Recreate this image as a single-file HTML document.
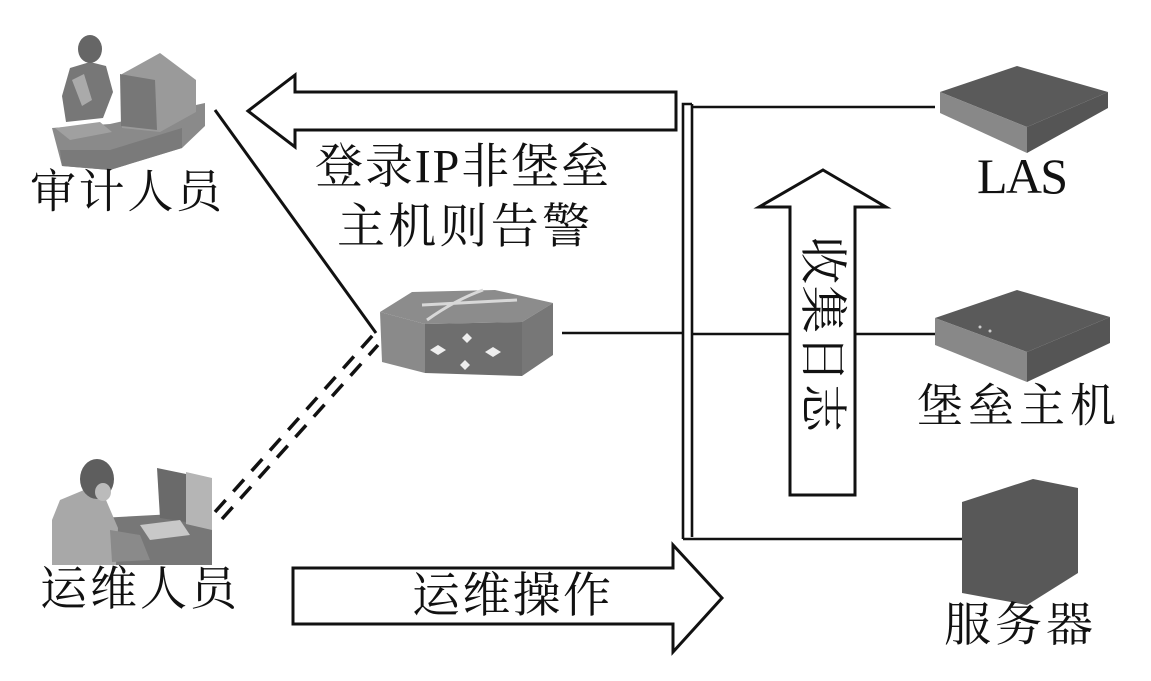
<!DOCTYPE html>
<html>
<head>
<meta charset="utf-8">
<style>
html,body{margin:0;padding:0;background:#fff;}
svg{display:block;}
text{font-family:"Liberation Serif","Noto Serif CJK SC",serif;fill:#111;}
</style>
</head>
<body>
<svg width="1151" height="681" viewBox="0 0 1151 681" xmlns="http://www.w3.org/2000/svg">
<rect width="1151" height="681" fill="#fff"/>

<!-- Audit person icon -->
<g>
  <polygon points="52,128 110,124 205,103 205,126 182,148 110,170 62,166" fill="#8a8a8a"/>
  <polygon points="60,150 110,150 182,128 182,148 110,170 62,166" fill="#7a7a7a"/>
  <polygon points="122,74 160,53 196,80 196,112 160,132 122,128" fill="#9a9a9a"/>
  <polygon points="120,74 155,80 157,130 121,126" fill="#777"/>
  <polygon points="62,96 70,68 90,62 106,66 113,92 103,118 66,122" fill="#777"/>
  <polygon points="72,80 84,74 92,100 82,106" fill="#aaa"/>
  <polygon points="55,128 100,122 112,132 70,140" fill="#a0a0a0"/>
  <ellipse cx="90" cy="49" rx="12" ry="14" fill="#666"/>
</g>

<!-- Operator photo icon -->
<g>
  <polygon points="100,518 212,512 212,565 100,565" fill="#777"/>
  <polygon points="157,468 186,474 186,522 160,518" fill="#6a6a6a"/>
  <polygon points="186,472 212,478 212,530 186,524" fill="#b5b5b5"/>
  <polygon points="140,525 180,520 190,535 150,540" fill="#c8c8c8"/>
  <polygon points="52,565 52,520 60,500 84,490 106,500 118,528 116,565" fill="#a8a8a8"/>
  <polygon points="110,530 140,535 150,560 112,562" fill="#8a8a8a"/>
  <ellipse cx="97" cy="479" rx="17" ry="20" fill="#5e5e5e"/>
  <ellipse cx="103" cy="492" rx="8" ry="9" fill="#bbb"/>
</g>

<!-- Router -->
<g>
  <polygon points="380,312 412,292 495,290 553,303 522,322 425,324" fill="#8c8c8c"/>
  <polygon points="380,312 425,324 425,373 382,362" fill="#8a8a8a"/>
  <polygon points="425,324 522,322 522,376 425,373" fill="#6e6e6e"/>
  <polygon points="522,322 553,303 553,355 522,376" fill="#777"/>
  <path d="M422,305 L517,300 M427,320 Q455,300 483,290" stroke="#d8d8d8" stroke-width="3" fill="none"/>
  <polygon points="438,345 446,350 438,355 430,350" fill="#eee"/>
  <polygon points="467,333 472,338 467,343 462,338" fill="#eee"/>
  <polygon points="493,347 501,352 493,357 485,352" fill="#eee"/>
  <polygon points="465,360 470,365 465,370 460,365" fill="#eee"/>
</g>

<!-- LAS box -->
<g>
  <polygon points="940,92 1017,66 1108,92 1027,127" fill="#5a5a5a"/>
  <polygon points="940,92 1027,127 1027,153 940,113" fill="#888"/>
  <polygon points="1027,127 1108,92 1108,108 1027,153" fill="#555"/>
</g>

<!-- Bastion host box -->
<g>
  <polygon points="935,318 1017,290 1110,317 1027,352" fill="#5a5a5a"/>
  <polygon points="935,318 1027,352 1027,382 935,345" fill="#888"/>
  <polygon points="1027,352 1110,317 1110,343 1027,382" fill="#555"/>
  <circle cx="980" cy="327" r="1.5" fill="#ccc"/>
  <circle cx="990" cy="331" r="1.5" fill="#ccc"/>
</g>

<!-- Server -->
<polygon points="962,502 1033,479 1078,488 1078,573 1027,605 962,593" fill="#585858"/>

<!-- Connectors -->
<g stroke="#111" stroke-width="2.6" fill="none">
  <path d="M683,539 V104 H692"/>
  <path d="M692,104 V537"/>
  <path d="M692,107 H935"/>
  <path d="M683,539 H962"/>
  <path d="M562,333 H683"/>
  <path d="M692,334 H790"/>
  <path d="M855,334 H935"/>
  <path d="M215,110 L376,333" stroke-width="3"/>
  <path d="M215,512 L373,335" stroke-width="3.5" stroke-dasharray="16 11.5"/>
  <path d="M222,519 L378,345" stroke-width="3.5" stroke-dasharray="16 11.5"/>
</g>

<!-- Arrows -->
<g stroke="#111" stroke-width="3" fill="#fff" stroke-linejoin="miter">
  <polygon points="248,111 295,75 295,92 676,92 676,130 295,130 295,147"/>
  <polygon points="823,170 886,207 855,207 855,495 790,495 790,207 759,207"/>
  <polygon points="293,568 673,568 673,545 722,598 673,652 673,624 293,624"/>
</g>

<!-- Labels -->
<g font-size="46" dominant-baseline="central">
  <text x="30" y="192" textLength="192" lengthAdjust="spacing">审计人员</text>
  <text x="40" y="590" font-size="47" textLength="197" lengthAdjust="spacing">运维人员</text>
  <text x="315" y="167" font-size="48" textLength="294" lengthAdjust="spacing">登录IP非堡垒</text>
  <text x="337" y="227" font-size="48" textLength="253" lengthAdjust="spacing">主机则告警</text>
  <text x="412" y="596" font-size="48" textLength="199" lengthAdjust="spacing">运维操作</text>
  <text x="917" y="406" textLength="199" lengthAdjust="spacing">堡垒主机</text>
  <text x="944" y="626" font-size="47" textLength="149" lengthAdjust="spacing">服务器</text>
  <text transform="translate(822,334) rotate(90)" x="0" y="0" font-size="48" text-anchor="middle" textLength="196" lengthAdjust="spacing">收集日志</text>
</g>
<text x="977" y="193" font-size="50" textLength="91" lengthAdjust="spacing">LAS</text>
</svg>
</body>
</html>
